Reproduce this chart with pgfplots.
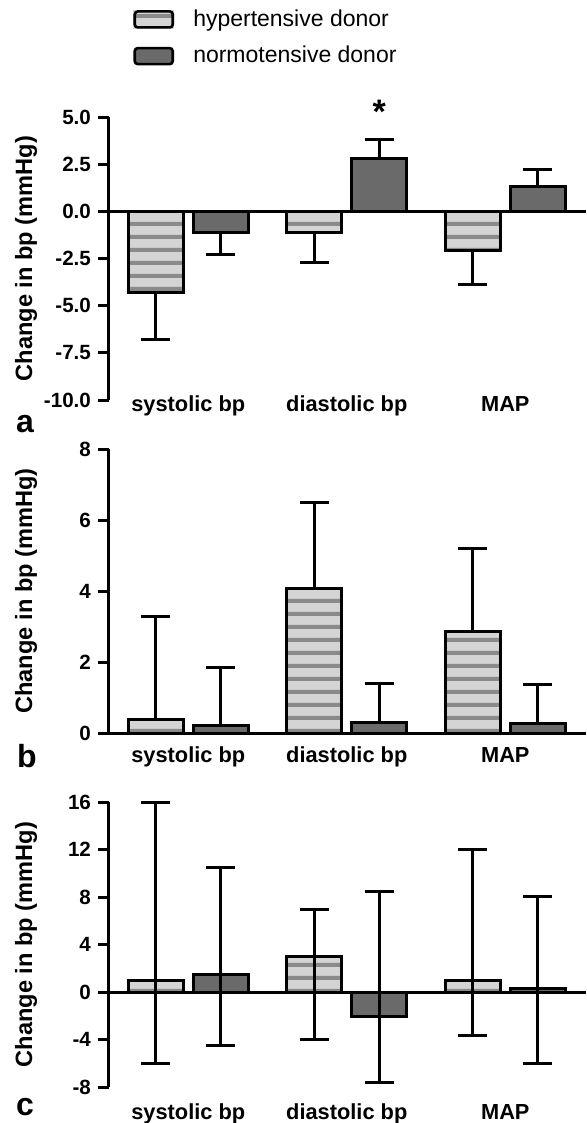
\documentclass[border=0pt]{standalone}
\usepackage{pgfplots}
\pgfplotsset{compat=1.18}
\usepackage{pgfplotstable}
\usepackage{fontspec}
\setmainfont{Liberation Sans}
\usetikzlibrary{patterns.meta}

\definecolor{lightbar}{HTML}{D4D4D4}
\definecolor{stripe}{HTML}{8A8A8A}
\definecolor{darkbar}{HTML}{6A6A6A}

% horizontal stripes for the hypertensive bars (wide tile, so no seams)
\tikzdeclarepattern{
  name=hstripes, type=uncolored,
  bounding box={(0pt,0pt) and (60pt,6.5pt)},
  tile size={(60pt,6.5pt)},
  code={\fill (-1pt,0pt) rectangle (61pt,2.2pt);}
}

% x: 0 systolic, 1 diastolic, 2 MAP ; ep / em = error bar length up / down
\pgfplotstableread{
x   y      ep    em
0  -4.3    0     2.5
1  -1.1    0     1.6
2  -2.1    0     1.8
}\hypA
\pgfplotstableread{
x   y      ep    em
0  -1.1    0     1.2
1   2.8    1.0   0
2   1.3    0.9   0
}\norA
\pgfplotstableread{
x   y      ep    em
0   0.37   2.9   0
1   4.07   2.43  0
2   2.85   2.35  0
}\hypB
\pgfplotstableread{
x   y      ep    em
0   0.2    1.65  0
1   0.31   1.08  0
2   0.28   1.1   0
}\norB
\pgfplotstableread{
x   y      ep    em
0   1.0    15.0  7.06
1   2.96   4.0   7.0
2   1.0    11.0  4.7
}\hypC
\pgfplotstableread{
x   y      ep    em
0   1.5    9.0   6.0
1  -2.06   10.56 5.52
2   0.28   7.77  6.34
}\norC

\pgfplotsset{
  bpanel/.style={
    scale only axis, width=238.5pt,
    xmin=-0.5, xmax=2.509, enlargelimits=false,
    axis y line*=left, axis x line*=bottom,
    x axis line style={draw=none},
    y axis line style={line width=1.5pt, -},
    xtick={0,1,2}, xticklabels={systolic bp, diastolic bp, MAP},
    major x tick style={draw=none},
    xticklabel style={anchor=base, font=\bfseries\fontsize{10.9}{13}\selectfont},
    ytick style={line width=1.5pt, black},
    tick align=outside, major tick length=5.5pt,
    yticklabel style={font=\bfseries\fontsize{10.3}{12}\selectfont},
    /pgf/number format/assume math mode=true,
    ylabel={Change in bp (mmHg)},
    every axis y label/.style={at={(axis description cs:-0.174,0.5)}, rotate=90, anchor=center,
      font=\bfseries\fontsize{11.8}{13}\selectfont},
    ybar, bar width=27.5pt,
    clip=false,
    error bars/y dir=both, error bars/y explicit,
    error bars/error bar style={line width=1.5pt, black},
    error bars/error mark options={rotate=90, mark size=7.2pt, line width=1.5pt, black},
  },
  hypbase/.style={draw=none, fill=lightbar, bar shift=-16.25pt, forget plot, error bars/y dir=none},
  hyp/.style={draw=black, line width=1.5pt, pattern=hstripes, pattern color=stripe, bar shift=-16.25pt,
    legend image code/.code={
      \fill[lightbar] (0pt,-4pt) rectangle (19pt,4pt);
      \draw[##1, line width=1.3pt, rounded corners=1.5pt] (0pt,-4pt) rectangle (19pt,4pt);}},
  nor/.style={draw=black, line width=1.5pt, fill=darkbar, bar shift=16.25pt,
    legend image code/.code={
      \draw[##1, line width=1.3pt, rounded corners=1.5pt] (0pt,-4pt) rectangle (19pt,4pt);}},
}

\begin{document}
\begin{tikzpicture}
\useasboundingbox (0,0) rectangle (293pt,-561.5pt);

% panel a
\begin{axis}[bpanel,
  at={(54.5pt,-200pt)}, anchor=south west, height=141.5pt,
  ymin=-10, ymax=5,
  ytick={-10,-7.5,-5,-2.5,0,2.5,5},
  yticklabels={-10.0,-7.5,-5.0,-2.5,0.0,2.5,5.0},
  xticklabel style={yshift=0pt},
  legend style={draw=none, fill=none, at={(axis description cs:0.05,1.395)}, anchor=north west,
    font=\fontsize{11.5}{13}\selectfont, row sep=4.5pt, inner sep=0pt,
    /tikz/every odd column/.append style={column sep=7.5pt}},
  legend cell align=left,
]
\addplot[hypbase] table[x=x, y=y] {\hypA};
\addplot[hyp] table[x=x, y=y, y error plus=ep, y error minus=em] {\hypA};
\addlegendentry{hypertensive donor}
\addplot[nor] table[x=x, y=y, y error plus=ep, y error minus=em] {\norA};
\addlegendentry{normotensive donor}
\draw[line width=1.5pt] (axis cs:-0.5,0) -- (axis cs:2.509,0);
\node[font=\bfseries\fontsize{17}{17}\selectfont] at (axis cs:1.205,5.25) {*};
\end{axis}

% panel b
\begin{axis}[bpanel,
  at={(54.5pt,-366.5pt)}, anchor=south west, height=142pt,
  ymin=0, ymax=8, ytick={0,2,4,6,8},
  xticklabel style={yshift=-9.25pt},
]
\addplot[hypbase] table[x=x, y=y] {\hypB};
\addplot[hyp] table[x=x, y=y, y error plus=ep, y error minus=em] {\hypB};
\addplot[nor] table[x=x, y=y, y error plus=ep, y error minus=em] {\norB};
\draw[line width=1.5pt] (axis cs:-0.5,0) -- (axis cs:2.509,0);
\end{axis}

% panel c
\begin{axis}[bpanel,
  at={(54.5pt,-543.5pt)}, anchor=south west, height=142.5pt,
  ymin=-8, ymax=16, ytick={-8,-4,0,4,8,12,16},
  xticklabel style={yshift=-10.75pt},
]
\addplot[hypbase] table[x=x, y=y] {\hypC};
\addplot[hyp] table[x=x, y=y, y error plus=ep, y error minus=em] {\hypC};
\addplot[nor] table[x=x, y=y, y error plus=ep, y error minus=em] {\norC};
\draw[line width=1.5pt] (axis cs:-0.5,0) -- (axis cs:2.509,0);
\end{axis}

% panel letters
\node[font=\bfseries\fontsize{16}{16}\selectfont, anchor=base] at (12.5pt,-216pt) {a};
\node[font=\bfseries\fontsize{16}{16}\selectfont, anchor=base] at (13.5pt,-383.5pt) {b};
\node[font=\bfseries\fontsize{16}{16}\selectfont, anchor=base] at (12.5pt,-557.5pt) {c};
\end{tikzpicture}
\end{document}
